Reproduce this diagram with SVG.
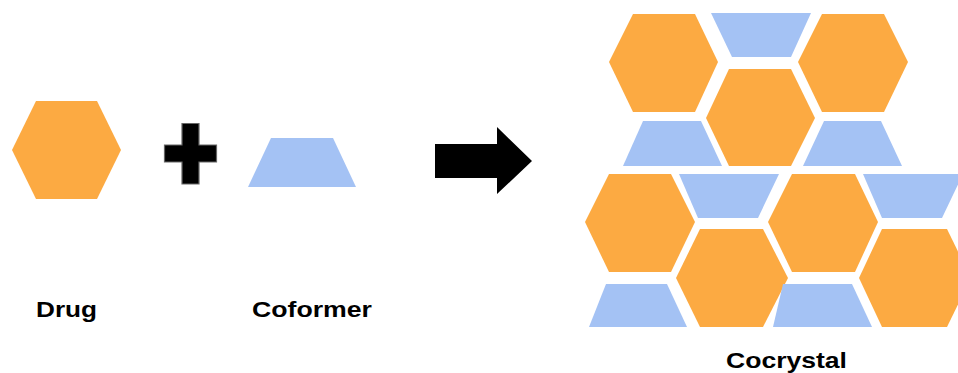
<svg xmlns="http://www.w3.org/2000/svg" width="958" height="373" viewBox="0 0 958 373">
<style>
.hex{fill:#fcaa42}
.trap{fill:#a4c2f4}
.lbl{font-family:"Liberation Sans",Arial,sans-serif;font-weight:bold;font-size:22px;fill:#000}
</style>
<rect width="958" height="373" fill="#fff"/>
<g id="drug">
<polygon class="hex" points="12,150 36,101 97,101 121,150 97,199 36,199"/>
<text class="lbl" x="36" y="317" textLength="61" lengthAdjust="spacingAndGlyphs">Drug</text>
</g>
<g id="plus">
<polygon points="182,123.5 199,123.5 199,145 216.5,145 216.5,162 199,162 199,184 182,184 182,162 164.5,162 164.5,145 182,145" fill="#000" stroke="#666" stroke-width="1.2"/>
</g>
<g id="coformer">
<polygon class="trap" points="271,138 333,138 356,187 248,187"/>
<text class="lbl" x="252" y="317" textLength="120" lengthAdjust="spacingAndGlyphs">Coformer</text>
</g>
<g id="connectors">
<polygon points="435,144 497,144 497,127 532,161 497,194 497,178 435,178" fill="#000"/>
</g>
<g id="cocrystal">
<polygon class="hex" points="609,62 633,14 695,14 718,62 695,112 633,112"/>
<polygon class="trap" points="711,13 811,13 791,57 732,57"/>
<polygon class="hex" points="798,62 822,14 884,14 908,62 884,112 822,112"/>
<polygon class="hex" points="706,118 729,69 791,69 815,118 791,166 729,166"/>
<polygon class="trap" points="643,121 701,121 722,166 623,166"/>
<polygon class="trap" points="824,121 881,121 902,166 803,166"/>
<polygon class="hex" points="585,222 609,174 671,174 695,222 671,272 609,272"/>
<polygon class="trap" points="679,174 779,174 758,218 698,218"/>
<polygon class="hex" points="768,222 792,174 855,174 878,222 855,272 792,272"/>
<polygon class="trap" points="863,174 963,174 942,218 882,218"/>
<polygon class="hex" points="676,278 700,229 763,229 788,278 763,327 700,327"/>
<polygon class="hex" points="859,278 882,229 947,229 971,278 947,327 882,327"/>
<polygon class="trap" points="606,284 667,284 687,327 589,327"/>
<polygon class="trap" points="783,284 852,284 872,327 773,327"/>
<text class="lbl" x="726" y="368" textLength="121" lengthAdjust="spacingAndGlyphs">Cocrystal</text>
</g>
</svg>
